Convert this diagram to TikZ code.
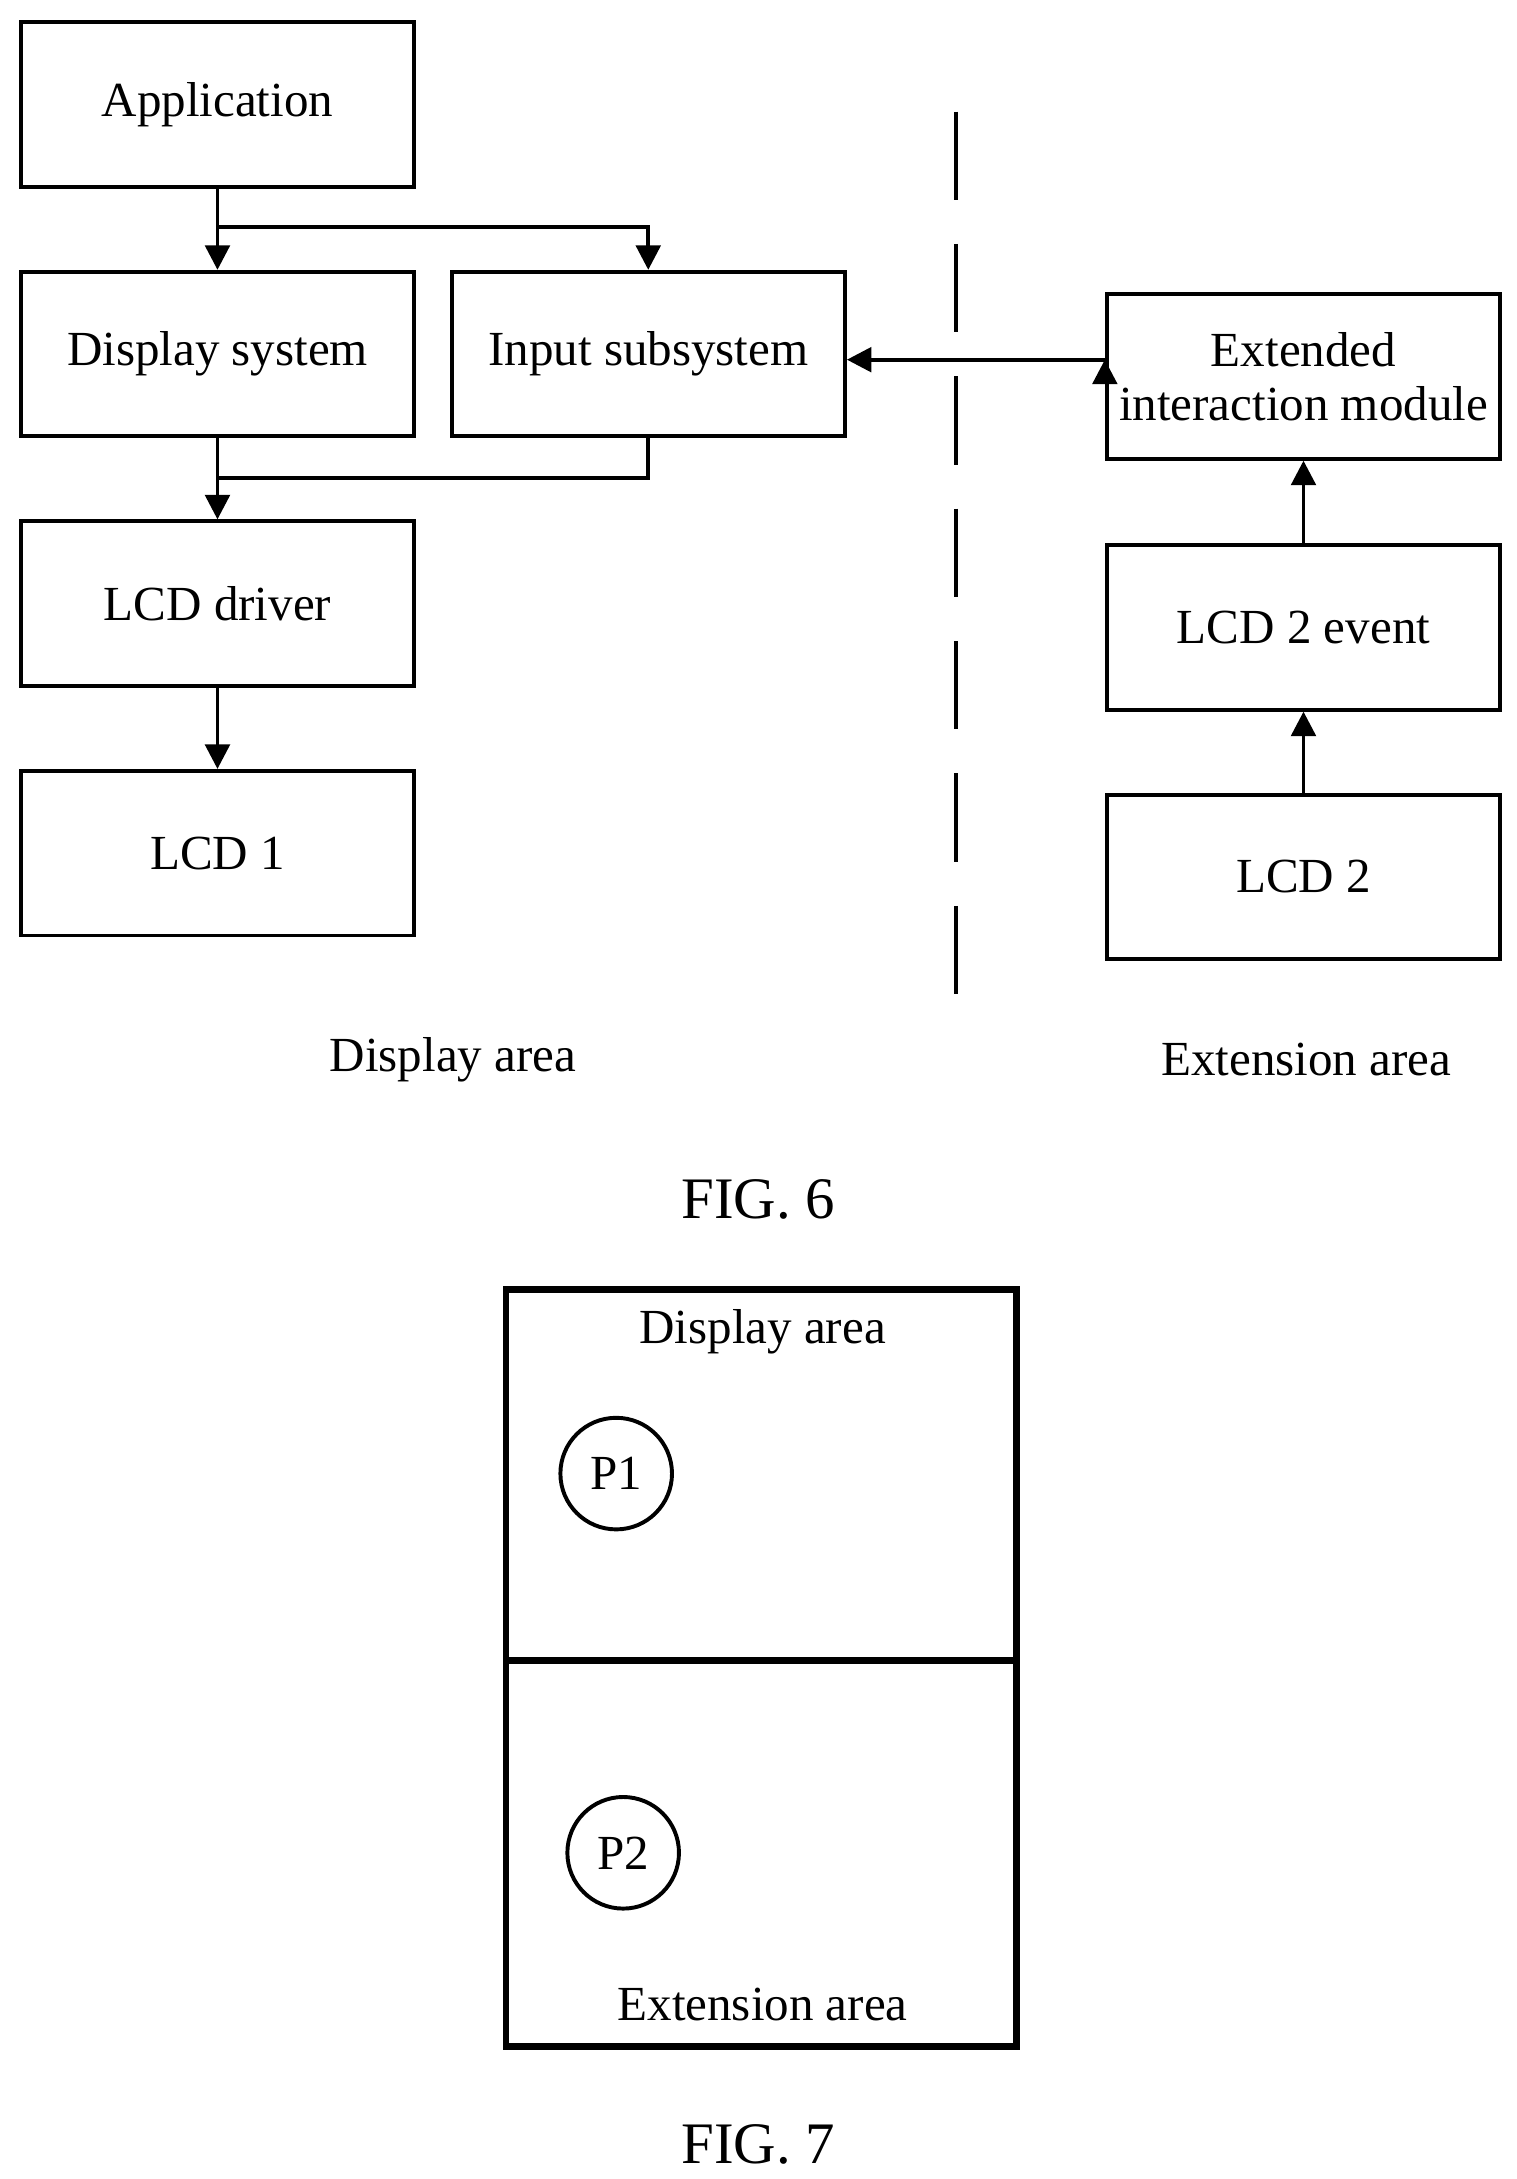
\documentclass[tikz,border=0pt]{standalone}
\usepackage{fontspec}
\setmainfont{Liberation Serif}
\usetikzlibrary{arrows.meta}
\begin{document}
\begin{tikzpicture}[x=0.01cm,y=-0.01cm,
  box/.style={draw,line width=0.8pt,minimum width=2.82cm,minimum height=1.18cm,align=center,inner sep=0pt,font=\fontsize{10}{11}\selectfont},
  lbl/.style={font=\fontsize{10}{11}\selectfont},
  arr/.style={line width=0.8pt,-{Triangle[length=5pt,width=5pt]}},
  ln/.style={line width=0.8pt}]
\useasboundingbox (0,0) rectangle (1088,1563);
\node[box] (app) at (156,75) {Application};
\node[box] (disp) at (156,254) {Display system};
\node[box] (inp) at (465,254) {Input subsystem};
\node[box] (drv) at (156,433) {LCD driver};
\node[box] (lcd1) at (156,612) {LCD 1};
\node[box] (ext) at (935,270) {Extended\\interaction module};
\node[box] (ev) at (935,450) {LCD 2 event};
\node[box] (lcd2) at (935,629) {LCD 2};
\coordinate (b1) at (156,163); \coordinate (b2) at (465,163);
\coordinate (c1) at (156,343); \coordinate (c2) at (465,343);
\draw[arr] (app.south) -- (disp.north);
\draw[arr] (b1) -- (b2) -- (inp.north);
\draw[arr] (disp.south) -- (drv.north);
\draw[ln] (inp.south) -- (c2) -- (c1);
\draw[arr] (drv.south) -- (lcd1.north);
\draw[arr] (ext.west |- inp.east) ++(0,4) coordinate (e1);
\draw[arr] (794,258) coordinate (e2) -- (inp.east |- e2);
\draw[arr] (lcd2.north) -- (ev.north |- ev.south);
\draw[arr] (ev.north) -- (ext.south);
\coordinate (d1) at (686,80); \coordinate (d2) at (686,730);
\draw[ln,dash pattern=on 18pt off 9pt] (d1) -- (d2);
\node[lbl] (da) at (325,760) {Display area};
\node[lbl] (ea) at (937,760) {Extension area};
\node[lbl,font=\fontsize{12}{13}\selectfont] (f6) at (544,860) {FIG. 6};
\draw[line width=1.3pt] (363,925) rectangle (729,1468);
\coordinate (m1) at (363,1191); \coordinate (m2) at (729,1191);
\draw[line width=1.3pt] (m1) -- (m2);
\node[lbl] (da2) at (547,955) {Display area};
\node[draw,circle,line width=0.8pt,minimum size=0.8cm,inner sep=0pt,lbl] (p1) at (442,1057) {P1};
\node[draw,circle,line width=0.8pt,minimum size=0.8cm,inner sep=0pt,lbl] (p2) at (447,1329) {P2};
\node[lbl] (ea2) at (547,1438) {Extension area};
\node[lbl,font=\fontsize{12}{13}\selectfont] (f7) at (544,1538) {FIG. 7};
\end{tikzpicture}
\end{document}
